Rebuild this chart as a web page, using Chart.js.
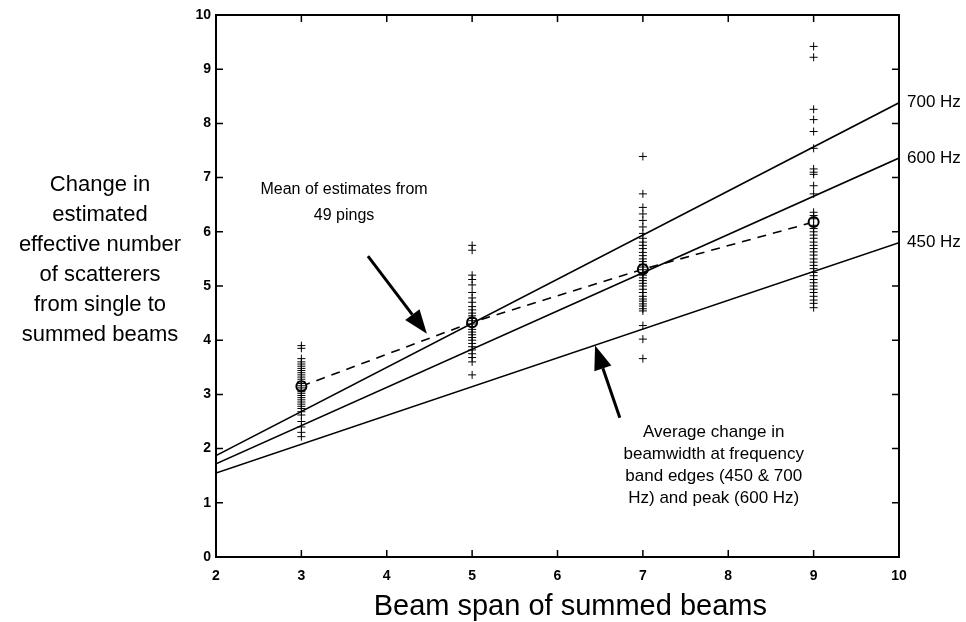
<!DOCTYPE html>
<html>
<head>
<meta charset="utf-8">
<script src="https://cdn.jsdelivr.net/npm/chart.js@4/dist/chart.umd.min.js"></script>
<style>
    body { margin: 0; background: #fff; }
</style>
</head>
<body>
<canvas id="grafico" width="966" height="622"></canvas>
<script>
// Beam spans (x) and ticks
const spans = [3, 5, 7, 9];
const xTicks = [2, 3, 4, 5, 6, 7, 8, 9, 10];
const yTicks = [0, 1, 2, 3, 4, 5, 6, 7, 8, 9, 10];

// Estimates from the 49 pings, one list per beam span
const pings3 = [3.9, 3.85, 3.66, 3.6, 3.56, 3.52, 3.48, 3.44, 3.4, 3.36, 3.32, 3.28, 3.24, 3.2, 3.16, 3.12, 3.08, 3.05, 3.02, 2.98, 2.94, 2.9, 2.86, 2.82, 2.78, 2.74, 2.68, 2.62, 2.5, 2.4, 2.3, 2.22];
const pings5 = [5.75, 5.66, 5.2, 5.12, 5.02, 4.88, 4.78, 4.7, 4.62, 4.56, 4.5, 4.45, 4.4, 4.36, 4.3, 4.25, 4.2, 4.15, 4.1, 4.05, 4.0, 3.94, 3.88, 3.82, 3.75, 3.68, 3.6, 3.36];
const pings7 = [7.39, 6.7, 6.45, 6.33, 6.21, 6.09, 5.97, 5.88, 5.81, 5.75, 5.69, 5.62, 5.56, 5.5, 5.45, 5.4, 5.35, 5.3, 5.25, 5.2, 5.15, 5.1, 5.05, 5.0, 4.94, 4.88, 4.81, 4.76, 4.72, 4.67, 4.63, 4.58, 4.54, 4.27, 4.02, 3.66];
const pings9 = [9.42, 9.22, 8.26, 8.07, 7.85, 7.54, 7.16, 7.1, 7.06, 6.85, 6.7, 6.36, 6.3, 6.24, 6.12, 6.06, 6.0, 5.94, 5.88, 5.81, 5.75, 5.69, 5.63, 5.57, 5.5, 5.44, 5.38, 5.32, 5.25, 5.19, 5.12, 5.06, 5.0, 4.94, 4.88, 4.81, 4.74, 4.68, 4.6];

// Mean of the estimates at each span
const means = [3.15, 4.33, 5.31, 6.18];

// Beamwidth change lines (values at x = 2 and x = 10)
const lineX = [2, 10];
const hz700 = [1.87, 8.38];
const hz600 = [1.72, 7.36];
const hz450 = [1.55, 5.8];
const hzLabels = ['700 Hz', '600 Hz', '450 Hz'];

const yTitle = ['Change in', 'estimated', 'effective number', 'of scatterers', 'from single to', 'summed beams'];
const xTitle = 'Beam span of summed beams';
const meanNote = ['Mean of estimates from', '49 pings'];
const avgNote = ['Average change in', 'beamwidth at frequency', 'band edges (450 & 700', 'Hz) and peak (600 Hz)'];

const fonte = "'Liberation Sans', Arial, Helvetica, sans-serif";

const pontos = [];
[pings3, pings5, pings7, pings9].forEach((lista, i) => {
    lista.forEach(v => pontos.push({ x: spans[i], y: v }));
});

const reta = (vals) => lineX.map((x, i) => ({ x: x, y: vals[i] }));

function seta(ctx, x1, y1, x2, y2) {
    const ang = Math.atan2(y2 - y1, x2 - x1);
    const L = 24, W = 9;
    const bx = x2 - L * Math.cos(ang), by = y2 - L * Math.sin(ang);
    ctx.lineWidth = 3;
    ctx.beginPath();
    ctx.moveTo(x1, y1);
    ctx.lineTo(bx, by);
    ctx.stroke();
    ctx.beginPath();
    ctx.moveTo(x2, y2);
    ctx.lineTo(bx + W * Math.sin(ang), by - W * Math.cos(ang));
    ctx.lineTo(bx - W * Math.sin(ang), by + W * Math.cos(ang));
    ctx.closePath();
    ctx.fill();
}

// Frame, inward ticks, titles and notes
const moldura = {
    id: 'moldura',
    afterDraw(chart) {
        const { ctx, chartArea: a, scales: { x, y } } = chart;
        ctx.save();
        ctx.strokeStyle = '#000';
        ctx.fillStyle = '#000';
        ctx.lineWidth = 2;
        ctx.strokeRect(a.left, a.top, a.right - a.left, a.bottom - a.top);

        ctx.lineWidth = 1.5;
        ctx.beginPath();
        yTicks.slice(1, -1).forEach(v => {
            const py = y.getPixelForValue(v);
            ctx.moveTo(a.left, py); ctx.lineTo(a.left + 7, py);
            ctx.moveTo(a.right, py); ctx.lineTo(a.right - 7, py);
        });
        xTicks.slice(1, -1).forEach(v => {
            const px = x.getPixelForValue(v);
            ctx.moveTo(px, a.bottom); ctx.lineTo(px, a.bottom - 7);
            ctx.moveTo(px, a.top); ctx.lineTo(px, a.top + 7);
        });
        ctx.stroke();

        // Labels at the right end of the lines
        ctx.font = '17px ' + fonte;
        ctx.textAlign = 'left';
        ctx.textBaseline = 'middle';
        [hz700, hz600, hz450].forEach((vals, i) => {
            ctx.fillText(hzLabels[i], a.right + 8, y.getPixelForValue(vals[1]));
        });

        // Axis titles
        ctx.textAlign = 'center';
        ctx.font = '22px ' + fonte;
        yTitle.forEach((t, i) => ctx.fillText(t, 100, 185 + i * 30));
        ctx.font = '29px ' + fonte;
        ctx.fillText(xTitle, x.getPixelForValue(6.15), 607);

        // Notes and arrows
        ctx.font = '16px ' + fonte;
        meanNote.forEach((t, i) => ctx.fillText(t, x.getPixelForValue(3.5), y.getPixelForValue(6.78) + i * 26));
        ctx.font = '17px ' + fonte;
        avgNote.forEach((t, i) => ctx.fillText(t, x.getPixelForValue(7.83), y.getPixelForValue(2.3) + i * 22));

        seta(ctx, x.getPixelForValue(3.78), y.getPixelForValue(5.55), x.getPixelForValue(4.47), y.getPixelForValue(4.12));
        seta(ctx, x.getPixelForValue(6.73), y.getPixelForValue(2.57), x.getPixelForValue(6.44), y.getPixelForValue(3.9));
        ctx.restore();
    }
};

const grafico = new Chart(
    document.getElementById('grafico'),
    {
        type: 'scatter',
        data: {
            datasets: [
                { label: '700 Hz', data: reta(hz700), showLine: true, borderColor: '#000', borderWidth: 1.6, pointRadius: 0 },
                { label: '600 Hz', data: reta(hz600), showLine: true, borderColor: '#000', borderWidth: 1.6, pointRadius: 0 },
                { label: '450 Hz', data: reta(hz450), showLine: true, borderColor: '#000', borderWidth: 1.6, pointRadius: 0 },
                {
                    label: 'Pings', data: pontos, pointStyle: 'cross', pointRadius: 4,
                    borderColor: '#000', borderWidth: 1
                },
                {
                    label: 'Mean', data: spans.map((s, i) => ({ x: s, y: means[i] })), showLine: true,
                    borderColor: '#000', borderWidth: 1.6, borderDash: [9, 7],
                    pointStyle: 'circle', pointRadius: 5, pointBorderWidth: 2,
                    pointBackgroundColor: '#fff', pointBorderColor: '#000'
                }
            ]
        },
        options: {
            responsive: false,
            animation: false,
            devicePixelRatio: 1,
            layout: { padding: { top: 15, right: 67, left: 0, bottom: 0 } },
            plugins: { legend: { display: false }, tooltip: { enabled: false } },
            scales: {
                x: {
                    type: 'linear', min: 2, max: 10,
                    afterFit: (s) => { s.height = 65; },
                    grid: { display: false, drawTicks: false },
                    border: { display: false },
                    afterBuildTicks: (s) => { s.ticks = xTicks.map(v => ({ value: v })); },
                    ticks: { padding: 11, color: '#000', font: { family: fonte, size: 14, weight: 'bold' } }
                },
                y: {
                    type: 'linear', min: 0, max: 10,
                    afterFit: (s) => { s.width = 216; },
                    grid: { display: false, drawTicks: false },
                    border: { display: false },
                    afterBuildTicks: (s) => { s.ticks = yTicks.map(v => ({ value: v })); },
                    ticks: { padding: 5, color: '#000', font: { family: fonte, size: 14, weight: 'bold' } }
                }
            }
        },
        plugins: [moldura]
    }
);
</script>
</body>
</html>
